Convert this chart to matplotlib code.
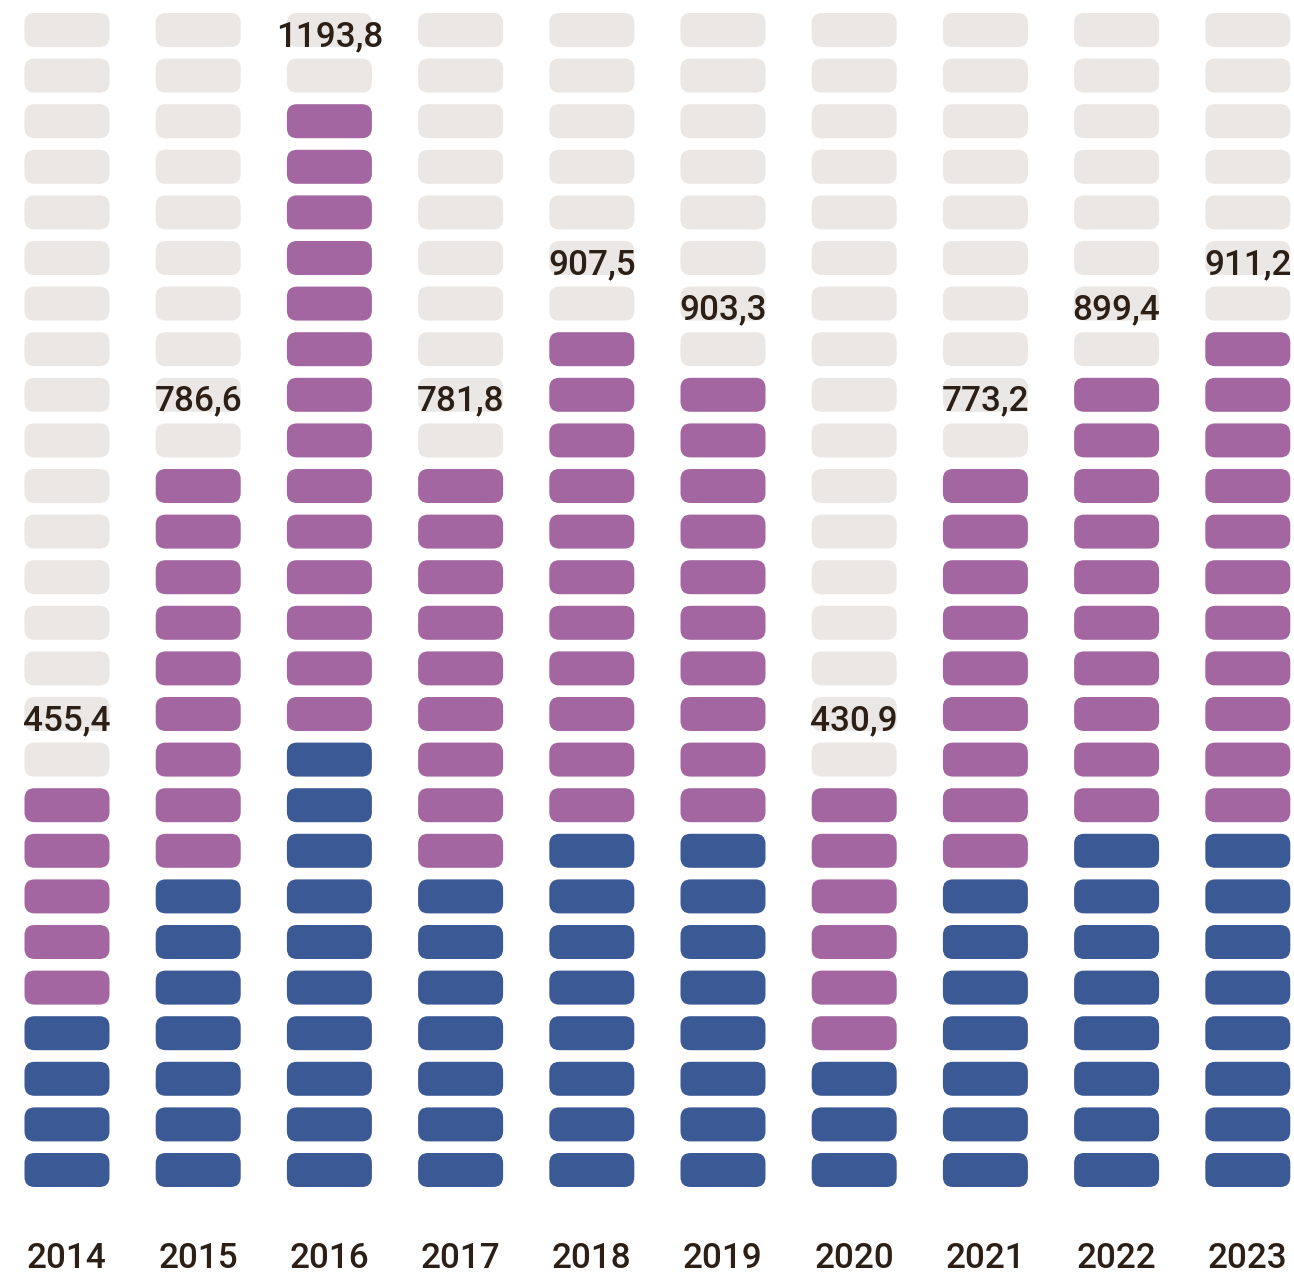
import matplotlib
matplotlib.use("Agg")
import matplotlib.pyplot as plt
from matplotlib.patches import FancyBboxPatch

years = ["2014", "2015", "2016", "2017", "2018", "2019", "2020", "2021", "2022", "2023"]
totals = ["455,4", "786,6", "1193,8", "781,8", "907,5", "903,3", "430,9", "773,2", "899,4", "911,2"]
blue_units = [4, 7, 10, 7, 8, 8, 3, 7, 8, 8]
purple_units = [5, 9, 14, 9, 11, 10, 6, 9, 10, 11]
n_rows = 26

BLUE = "#3B5A95"
PURPLE = "#A466A0"
GREY = "#EBE7E4"
TEXT = "#2B1F16"

W, H = 1294, 1273
fig = plt.figure(figsize=(W / 100, H / 100), dpi=100)
ax = fig.add_axes([0, 0, 1, 1])
ax.set_axis_off()

col_px = 131.2
row_px = 45.6
x0_px = 67
y0_px = 1170
ax.set_xlim((0 - x0_px) / col_px, (W - x0_px) / col_px)
ax.set_ylim((y0_px - H) / row_px, (y0_px - 0) / row_px)

bw = 85 / col_px
bh = 34 / row_px
r = 10 / col_px
aspect = col_px / row_px

for i, yr in enumerate(years):
    nb = blue_units[i]
    npu = purple_units[i]
    for j in range(n_rows):
        if j < nb:
            c = BLUE
        elif j < nb + npu:
            c = PURPLE
        else:
            c = GREY
        p = FancyBboxPatch((i - bw / 2, j - bh / 2), bw, bh,
                           boxstyle=f"round,pad=0,rounding_size={r}",
                           mutation_aspect=aspect, facecolor=c, edgecolor="none")
        ax.add_patch(p)
    label_row = nb + npu + 1
    ax.text(i, label_row - 0.35, totals[i], ha="center", va="baseline",
            fontsize=25.3, color=TEXT, family=["Roboto", "DejaVu Sans"], fontweight=500)
    ax.text(i, -2.15, yr, ha="center", va="baseline",
            fontsize=25.3, color=TEXT, family=["Roboto", "DejaVu Sans"], fontweight=500)

fig.savefig("out.png", dpi=100, facecolor="white")
